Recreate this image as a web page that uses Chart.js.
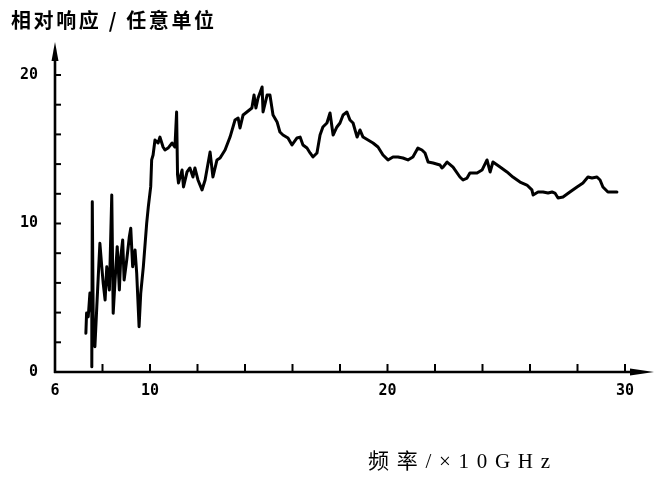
<!DOCTYPE html>
<html>
<head>
<meta charset="utf-8">
<script src="https://cdn.jsdelivr.net/npm/chart.js@4.4.1/dist/chart.umd.min.js"></script>
<style>
  html, body { margin: 0; padding: 0; background: #fff; }
  #wrap { width: 655px; height: 477px; position: relative; }
</style>
</head>
<body>
<div id="wrap"><canvas id="c" width="655" height="477"></canvas></div>
<script>
// Frequency (×10 GHz) and relative response (arbitrary units)
const freq = [
  7.30, 7.33, 7.40, 7.47, 7.55, 7.55, 7.57, 7.61, 7.68, 7.76,
  7.89, 7.97, 8.03, 8.11, 8.18, 8.29, 8.39, 8.45, 8.53, 8.62,
  8.71, 8.77, 8.85, 8.91, 9.02, 9.13, 9.19, 9.27, 9.37, 9.44,
  9.54, 9.61, 9.72, 9.86, 9.93, 10.03,
  10.07, 10.13, 10.21, 10.34, 10.42, 10.55, 10.63, 10.76, 10.93, 11.05,
  11.12, 11.16, 11.20, 11.35, 11.41, 11.56, 11.68, 11.81, 11.89, 12.02,
  12.19, 12.32, 12.53, 12.65, 12.82, 12.95, 13.16, 13.37, 13.58, 13.71,
  13.79, 13.92, 14.08, 14.29, 14.38, 14.46, 14.55, 14.72, 14.76, 14.93,
  15.05, 15.18, 15.35, 15.47, 15.60, 15.81, 15.98, 16.19, 16.32, 16.44,
  16.61, 16.74, 16.86, 17.03, 17.16, 17.28, 17.45, 17.58, 17.71, 17.87,
  18.00, 18.13, 18.29, 18.42, 18.55, 18.72, 18.84, 18.97, 19.18, 19.39,
  19.60, 19.81, 20.02, 20.23, 20.44, 20.65, 20.86, 21.07, 21.28, 21.45,
  21.58, 21.71, 21.92, 22.21, 22.29, 22.34, 22.51, 22.76, 23.05, 23.18,
  23.35, 23.47, 23.77, 23.98, 24.19, 24.32, 24.44, 24.74, 25.03, 25.28,
  25.58, 25.87, 26.08, 26.13, 26.34, 26.55, 26.76, 26.93, 27.05, 27.18,
  27.39, 27.68, 27.98, 28.23, 28.44, 28.61, 28.82, 28.95, 29.07, 29.28,
  29.45, 29.58, 29.66
];
const resp = [
  2.61, 3.97, 3.72, 5.32, 3.97, 0.36, 11.47, 3.50, 1.70, 4.40,
  8.67, 7.08, 5.97, 4.85, 7.08, 5.52, 11.92, 3.95, 6.20, 8.44,
  5.52, 7.76, 8.89, 6.20, 7.54, 9.11, 9.68, 7.09, 8.22, 6.65,
  3.05, 5.30, 7.09, 10.01, 11.13, 12.48,
  14.28, 14.61, 15.62, 15.42, 15.82, 15.15, 14.95, 15.08, 15.42, 15.15,
  17.51, 13.27, 12.73, 13.60, 12.46, 13.47, 13.74, 13.13, 13.74, 12.93,
  12.26, 12.93, 14.81, 13.13, 14.28, 14.41, 14.95, 15.82, 16.97, 17.10,
  16.43, 17.31, 17.51, 17.78, 18.65, 17.78, 18.45, 19.19, 17.51, 18.65,
  18.65, 17.31, 16.84, 16.16, 15.96, 15.76, 15.29, 15.76, 15.82, 15.29,
  15.08, 14.75, 14.48, 14.75, 15.96, 16.50, 16.77, 17.44, 15.96, 16.50,
  16.77, 17.31, 17.51, 16.97, 16.77, 15.82, 16.30, 15.82, 15.62, 15.42,
  15.15, 14.61, 14.28, 14.48, 14.48, 14.41, 14.28, 14.48, 15.08, 14.95,
  14.75, 14.14, 14.07, 13.94, 13.74, 13.80, 14.14, 13.80, 13.13, 12.93,
  13.06, 13.40, 13.40, 13.60, 14.28, 13.47, 14.14, 13.80, 13.47, 13.13,
  12.79, 12.59, 12.26, 11.92, 12.12, 12.12, 12.05, 12.12, 12.05, 11.72,
  11.78, 12.12, 12.46, 12.73, 13.13, 13.06, 13.13, 12.93, 12.46, 12.12,
  12.12, 12.12, 12.12
];

const xTickLabels = [6, 10, 20, 30];
const yTickLabels = [0, 10, 20];
const xMin = 6, xMax = 30, xStep = 2;
const yMin = 0, yMax = 20, yStep = 2;
const yTitle = '相对响应 / 任意单位';
const xTitle = '频率/×10GHz';

const points = freq.map((f, i) => ({ x: f, y: resp[i] }));

// Draws the arrowed axes, inward tick marks and both axis titles.
const axesPlugin = {
  id: 'axesPlugin',
  afterDraw(chart) {
    const { ctx, scales: { x, y } } = chart;
    const x0 = x.getPixelForValue(xMin);
    const y0 = y.getPixelForValue(yMin);
    const yTop = y.getPixelForValue(yMax);
    const xEnd = chart.width - 1;
    ctx.save();
    ctx.strokeStyle = '#000';
    ctx.fillStyle = '#000';
    ctx.lineWidth = 2.6;

    // vertical axis with arrow
    ctx.beginPath();
    ctx.moveTo(x0, y0 + 1);
    ctx.lineTo(x0, yTop - 16);
    ctx.stroke();
    ctx.beginPath();
    ctx.moveTo(x0, yTop - 33);
    ctx.lineTo(x0 - 3.5, yTop - 14);
    ctx.lineTo(x0 + 3.5, yTop - 14);
    ctx.closePath();
    ctx.fill();

    // horizontal axis with arrow
    ctx.beginPath();
    ctx.moveTo(x0 - 1, y0);
    ctx.lineTo(xEnd - 18, y0);
    ctx.stroke();
    ctx.beginPath();
    ctx.moveTo(xEnd, y0);
    ctx.lineTo(xEnd - 24, y0 - 3.5);
    ctx.lineTo(xEnd - 24, y0 + 3.5);
    ctx.closePath();
    ctx.fill();

    // inward ticks
    ctx.lineWidth = 2;
    for (let v = xMin + xStep; v <= xMax + 1e-9; v += xStep) {
      const px = x.getPixelForValue(v);
      ctx.beginPath();
      ctx.moveTo(px, y0);
      ctx.lineTo(px, y0 - 8);
      ctx.stroke();
    }
    for (let v = yMin + yStep; v <= yMax + 1e-9; v += yStep) {
      const py = y.getPixelForValue(v);
      ctx.beginPath();
      ctx.moveTo(x0, py);
      ctx.lineTo(x0 + 6, py);
      ctx.stroke();
    }

    // titles
    ctx.textBaseline = 'alphabetic';
    ctx.textAlign = 'left';
    ctx.font = 'bold 20px "Noto Sans CJK SC"';
    fitText(ctx, yTitle, 11, 28, 203);
    ctx.font = '21px "Liberation Serif", "Noto Sans CJK SC"';
    fitText(ctx, xTitle, 368, 468, 182);
    ctx.restore();
  }
};

// Spreads the letters of a string so it spans the given width.
function fitText(ctx, text, left, base, width) {
  const chars = Array.from(text);
  const natural = ctx.measureText(text).width;
  const gap = chars.length > 1 ? (width - natural) / (chars.length - 1) : 0;
  let px = left;
  for (const ch of chars) {
    ctx.fillText(ch, px, base);
    px += ctx.measureText(ch).width + gap;
  }
}

new Chart(document.getElementById('c'), {
  type: 'line',
  data: {
    datasets: [{
      data: points,
      borderColor: '#000',
      borderWidth: 3,
      borderJoinStyle: 'round',
      borderCapStyle: 'round',
      pointRadius: 0,
      tension: 0,
      fill: false
    }]
  },
  options: {
    responsive: false,
    animation: false,
    devicePixelRatio: 1,
    layout: { padding: { left: 0, right: 30, top: 75, bottom: 65 } },
    plugins: {
      legend: { display: false },
      title: { display: false },
      tooltip: { enabled: false }
    },
    scales: {
      x: {
        type: 'linear',
        min: xMin, max: xMax,
        grid: { display: false, drawTicks: false },
        border: { display: false },
        afterFit(scale) { scale.height = 40; },
        afterBuildTicks(scale) {
          scale.ticks = xTickLabels.map(v => ({ value: v }));
        },
        ticks: {
          padding: 10,
          color: '#000',
          maxRotation: 0,
          autoSkip: false,
          font: { family: '"DejaVu Sans Mono"', size: 15, weight: 'bold' },
          callback: v => String(v)
        }
      },
      y: {
        type: 'linear',
        min: yMin, max: yMax,
        grid: { display: false, drawTicks: false },
        border: { display: false },
        afterFit(scale) { scale.width = 55; },
        afterBuildTicks(scale) {
          scale.ticks = yTickLabels.map(v => ({ value: v }));
        },
        ticks: {
          padding: 17,
          color: '#000',
          autoSkip: false,
          font: { family: '"DejaVu Sans Mono"', size: 15, weight: 'bold' },
          callback: v => String(v)
        }
      }
    }
  },
  plugins: [axesPlugin]
});
</script>
</body>
</html>
